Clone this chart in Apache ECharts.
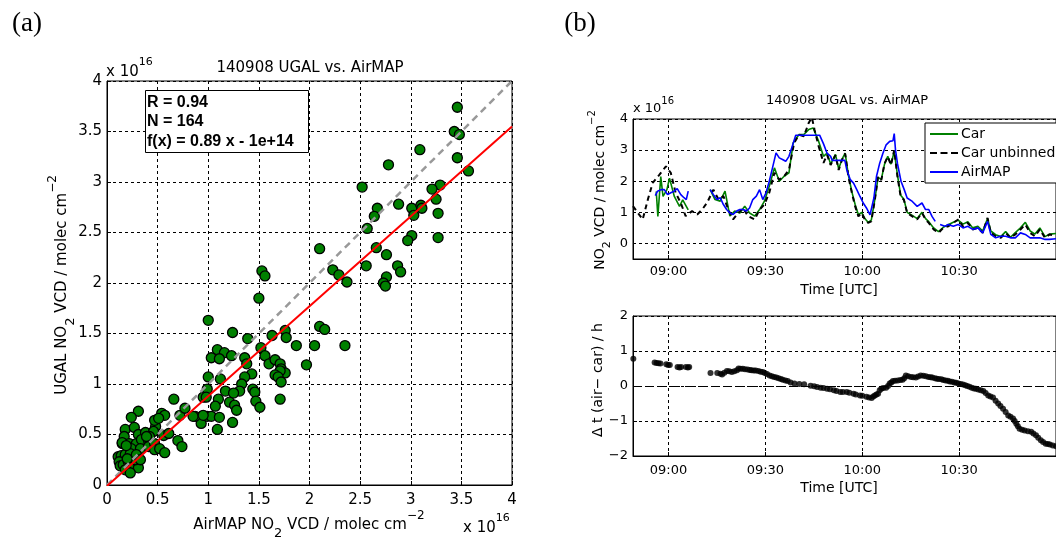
<!DOCTYPE html>
<html><head><meta charset="utf-8">
<script src="https://cdn.jsdelivr.net/npm/echarts@6/dist/echarts.min.js"></script>
<style>html,body{margin:0;padding:0;background:#fff}#c{width:1056px;height:543px}</style>
</head><body><div id="c"></div><script>
// ---------- DATA (units: 1e16 molec cm^-2; time in minutes since 00:00 UTC) ----------
const scatterPoints = [
[3.46,3.74],[3.43,3.50],[3.48,3.47],[3.46,3.24],[3.57,3.11],[3.09,3.32],[2.78,3.17],[3.29,2.97],[3.21,2.93],[2.52,2.95],
[3.25,2.83],[2.88,2.78],[3.01,2.74],[3.10,2.77],[3.11,2.74],[3.03,2.67],[2.67,2.74],[2.64,2.66],[3.27,2.69],[2.57,2.54],
[3.01,2.47],[2.97,2.42],[3.27,2.45],[2.10,2.34],[2.66,2.35],[2.76,2.28],[2.56,2.17],[2.87,2.17],[2.90,2.11],[2.23,2.13],
[2.29,2.08],[2.37,2.01],[2.76,2.06],[2.73,2.00],[2.75,1.97],[1.53,2.12],[1.56,2.07],
[1.50,1.85],[1.00,1.63],[1.24,1.51],[1.39,1.45],[1.63,1.48],[1.76,1.53],[1.77,1.46],[2.10,1.57],[2.15,1.54],[1.87,1.38],
[2.05,1.38],[2.35,1.38],[1.52,1.36],[1.56,1.28],[1.09,1.34],[1.16,1.31],[1.03,1.26],[1.11,1.25],[1.23,1.28],[1.36,1.26],
[1.38,1.20],[1.60,1.20],[1.66,1.24],[1.71,1.20],[1.72,1.15],[1.76,1.11],[1.71,1.13],[1.66,1.09],[1.69,1.07],[1.72,1.02],
[1.97,1.19],[1.71,0.85],[1.43,1.10],[1.36,1.07],[1.33,1.00],[1.31,0.93],[1.44,0.95],[1.46,0.92],[1.47,0.83],[1.51,0.77],
[1.00,1.07],[1.12,1.05],[0.99,0.95],[0.95,0.87],[0.98,0.87],[1.10,0.85],[1.17,0.93],[1.25,0.91],[1.21,0.82],[1.26,0.79],
[1.28,0.74],[1.07,0.78],[1.24,0.62],[0.94,0.68],[0.93,0.61],[0.99,0.68],[1.03,0.68],[1.11,0.67],[1.09,0.55],[0.87,0.68],
[0.66,0.85],[0.31,0.73],[0.24,0.67],[0.18,0.55],[0.27,0.57],[0.17,0.48],[0.31,0.50],[0.38,0.52],[0.15,0.41],[0.22,0.41],
[0.29,0.41],[0.34,0.45],[0.41,0.44],[0.24,0.36],[0.33,0.36],[0.41,0.38],[0.47,0.41],[0.56,0.49],[0.61,0.51],[0.48,0.58],
[0.54,0.71],[0.57,0.69],[0.47,0.64],[0.51,0.66],[0.46,0.53],[0.42,0.48],[0.39,0.48],[0.47,0.35],[0.52,0.36],[0.57,0.32],
[0.70,0.44],[0.74,0.38],[0.72,0.69],[0.77,0.76],[0.85,0.68],[0.95,0.69],
[0.11,0.28],[0.14,0.29],[0.18,0.30],[0.23,0.31],[0.12,0.23],[0.13,0.19],[0.16,0.20],[0.21,0.23],[0.26,0.21],[0.31,0.17],
[0.18,0.15],[0.23,0.12],[0.28,0.25],[0.29,0.30],[0.20,0.26],[0.33,0.25],[0.15,0.42],[0.19,0.39]
];
const oneToOne = [[0,0],[4,4]];
const fitSlope = 0.89, fitIntercept = -0.01;
const fitRange = [0, 4];
const statsText = ['R = 0.94','N = 164','f(x) = 0.89 x - 1e+14'];

const carBinned = [
[536.2,1.67],[536.7,0.87],[537.6,2.15],[538.3,1.51],[539.5,1.73],[540.3,2.1],[541.8,1.51],[543.4,1.19],[544.4,1.4],[546.1,1.08],[549,null],
[552.9,1.73],[554.4,1.41],[556,1.36],[557.5,1.68],[559,0.88],[560.5,1.04],[562.1,0.98],[563.6,1.2],[565.1,0.98],[566.7,0.88],
[568.2,1.09],[569.7,1.36],[571.2,1.84],[572.8,2.43],[574.3,2.0],[575.8,2.16],[577.3,2.27],[578.6,3.23],[580.4,3.5],[581.9,3.5],
[583.4,3.66],[584.8,3.71],[586.5,3.28],[588,2.8],[589.1,2.9],[590.2,2.55],[591.7,2.86],[592.7,2.4],[593.7,2.7],[594.7,2.9],
[595.7,2.2],[596.8,1.65],[597.8,1.25],[598.8,0.92],[599.8,1.0],[600.8,0.8],[601.8,0.68],[602.8,0.75],[603.9,1.42],[604.9,2.12],
[605.9,2.06],[606.9,2.55],[607.9,2.8],[608.9,2.55],[609.9,2.95],[610.9,2.2],[611.9,1.55],[612.9,1.42],[613.9,1.0],[615.5,0.9],
[617,0.8],[618.5,1.0],[619.6,0.8],[620.6,0.7],[622.1,0.5],[623.6,0.38],[625.1,0.52],[626.6,0.6],[628.2,0.68],[629.7,0.75],
[631.2,0.62],[632.7,0.7],[634.2,0.5],[635.8,0.55],[637.3,0.4],[638.8,0.8],[639.8,0.4],[641.3,0.28],[642.9,0.22],[644.4,0.38],
[645.9,0.2],[647.4,0.35],[649,0.5],[650.5,0.68],[652,0.4],[653.5,0.3],[655,0.5],[656.6,0.22],[658,0.3],[660,0.32]
];
const carUnbinned = [
[529,1.2],[530.5,0.98],[532,0.77],[533.6,1.41],[535.1,1.95],[537.2,2.21],[539.2,2.48],[540.7,2.27],[542.2,1.63],[543.8,1.30],
[545.3,0.88],[547.3,1.04],[548.9,0.93],[550.4,1.09],[551.9,1.30],[553.9,1.73],[555.5,1.41],[557,1.52],[558.5,1.09],[560,0.77],
[561.6,0.98],[563.1,1.14],[564.6,0.88],[566.7,0.77],[568.2,1.09],[569.7,1.25],[571.2,1.63],[572.8,2.27],[574.3,2.05],[575.8,2.16],
[577.3,2.37],[578.9,3.23],[580.4,3.50],[581.9,3.44],[583.4,3.87],[584.4,4.05],[585.2,3.66],[586.5,3.12],[588,2.59],[589.1,2.85],
[590.2,2.52],[591.7,2.84],[592.7,2.36],[593.7,2.68],[594.7,2.89],[595.7,2.15],[596.8,1.62],[597.8,1.19],[598.8,0.87],[599.8,0.98],
[600.8,0.77],[601.8,0.66],[602.8,0.71],[603.9,1.40],[604.9,2.15],[605.9,2.04],[606.9,2.57],[607.9,2.79],[608.9,2.52],[609.9,3.0],
[610.9,2.15],[611.9,1.51],[612.9,1.40],[613.9,0.98],[615.5,0.87],[617,0.77],[618.5,0.98],[619.6,0.77],[620.6,0.66],[622.1,0.45],
[623.6,0.34],[625.1,0.5],[626.6,0.55],[628.2,0.66],[629.7,0.77],[631.2,0.55],[632.7,0.66],[634.2,0.45],[635.8,0.5],[637.3,0.34],
[638.8,0.82],[639.8,0.34],[641.3,0.23],[642.9,0.18],[644.4,0.34],[645.9,0.18],[647.4,0.29],[649,0.45],[650.5,0.61],[652,0.34],
[653.5,0.23],[655,0.45],[656.6,0.18],[658,0.29],[660,0.25]
];
const airmapSeries = [
[535.9,1.54],[536.6,1.68],[537.7,1.73],[538.7,1.73],[539.7,1.57],[540.7,1.63],[541.7,1.68],[542.7,1.76],[543.8,1.57],[544.8,1.47],
[545.5,1.41],[546.1,1.68],[549,null],
[552.9,1.73],[553.9,1.57],[555,1.41],[556,1.47],[557,1.25],[558,1.09],[559,0.98],[560,0.93],[561.1,1.04],[562.1,1.09],[563.1,1.09],
[564.1,1.04],[565.1,1.14],[566.1,1.41],[567.2,1.52],[568.2,1.73],[569.2,1.41],[570.2,1.63],[571.2,2.0],[572.2,2.43],[573.3,2.91],
[574.3,2.75],[575.3,2.7],[576.3,2.64],[577.3,2.8],[578.3,3.12],[579.4,3.48],[581,3.48],[583,3.48],[585,3.48],[586.8,3.48],
[588,3.2],[589.1,2.9],[590.2,2.8],[590.7,2.67],[592,2.67],[593.5,2.67],[594.6,2.67],[595.2,2.37],[596.3,2.05],[597.3,1.94],
[598.3,1.73],[599.3,1.51],[600.3,1.30],[601.3,1.14],[602.4,0.92],[602.9,0.95],[603.6,1.46],[604.4,2.15],[605.4,2.58],[606.4,2.9],
[607.4,3.17],[608.5,3.28],[609.5,3.3],[609.9,3.53],[610.3,3.0],[610.9,2.57],[612,2.0],[613,1.73],[613.9,1.46],[615.5,1.35],
[617,1.19],[618.5,1.30],[619.6,1.09],[620.6,1.09],[621.6,0.87],[622.6,0.71],[623.3,null],
[624.1,0.61],[625.6,0.55],[626.6,0.61],[628.2,0.55],[629.7,0.61],[631.2,0.5],[632.7,0.55],[634.2,0.45],[635.8,0.5],[637.3,0.34],
[638.8,0.71],[639.8,0.29],[641.3,0.18],[642.9,0.23],[644.4,0.23],[645.9,0.18],[647.4,0.18],[649,0.34],[650.5,0.29],[652,0.18],
[653.5,0.18],[655,0.18],[656.6,0.13],[658,0.13],[660,0.15]
];
const deltaT = [
[529.1,0.78],[535.7,0.67],[536.3,0.66],[536.9,0.65],[537.5,0.64],[539.3,0.62],[539.9,0.60],[540.4,0.60],[542.8,0.54],[543.4,0.53],
[543.9,0.54],[545.4,0.54],[546.0,0.53],[546.4,0.54],[553.0,0.37],[555.1,0.37],[556.1,0.35],[556.6,0.33],[557.3,0.38],[558.1,0.43],
[558.8,0.42],[559.6,0.40],[560.4,0.42],[561.2,0.45],[561.7,0.50],[562.3,0.49],[563.0,0.49],[563.7,0.48],[564.5,0.47],[565.2,0.46],
[565.7,0.45],[566.4,0.44],[567.0,0.44],[567.8,0.43],[568.5,0.41],[569.2,0.40],[569.8,0.37],[570.5,0.34],[571.3,0.30],[572.0,0.28],
[572.7,0.26],[573.4,0.24],[574.1,0.22],[574.8,0.20],[575.4,0.18],[576.2,0.16],[576.9,0.14],[577.8,0.10],[579.0,0.07],[580.5,0.06],
[582.0,0.05],[584.0,0.01],[585.1,-0.01],[586.0,-0.03],[587.1,-0.05],[588.0,-0.06],[589.1,-0.08],[590.0,-0.09],[591.2,-0.12],[592.0,-0.14],
[593.2,-0.17],[594.0,-0.17],[595.2,-0.17],[596.0,-0.19],[597.3,-0.22],[598.0,-0.24],[599.3,-0.27],[600.0,-0.28],[601.3,-0.31],[602.1,-0.33],
[602.9,-0.34],[603.4,-0.30],[603.9,-0.27],[604.4,-0.24],[604.9,-0.22],[605.4,-0.12],[605.9,-0.08],[606.5,-0.06],[607.4,-0.05],[608.0,0.00],
[608.5,0.07],[609.0,0.10],[609.5,0.14],[610.2,0.15],[611.0,0.16],[611.8,0.17],[612.5,0.18],[613.0,0.22],[613.5,0.30],[614.2,0.28],
[615.1,0.26],[615.8,0.25],[616.6,0.24],[617.3,0.27],[618.1,0.30],[618.9,0.29],[619.7,0.28],[620.5,0.26],[621.2,0.25],[621.7,0.24],
[622.5,0.22],[623.1,0.21],[623.7,0.20],[624.5,0.19],[625.1,0.17],[625.8,0.16],[626.5,0.15],[627.1,0.13],[627.8,0.12],[628.5,0.10],
[629.1,0.09],[629.8,0.07],[630.5,0.06],[631.2,0.04],[631.9,0.02],[632.5,0.00],[633.2,-0.02],[633.9,-0.05],[634.6,-0.07],[635.2,-0.08],
[635.9,-0.10],[636.7,-0.12],[637.5,-0.14],[638.2,-0.20],[639.0,-0.27],[639.7,-0.30],[640.5,-0.33],[641.3,-0.42],[642.1,-0.50],[642.8,-0.57],
[643.6,-0.65],[644.4,-0.74],[645.2,-0.84],[645.9,-0.88],[646.7,-0.93],[647.2,-1.00],[647.7,-1.08],[648.2,-1.15],[648.7,-1.22],[649.5,-1.25],
[650.3,-1.27],[651.3,-1.29],[652.3,-1.31],[653.0,-1.36],[653.8,-1.41],[654.5,-1.48],[655.3,-1.55],[656.0,-1.60],[656.8,-1.65],[657.5,-1.66],
[658.1,-1.67],[659.0,-1.70],[660.0,-1.72]
];
const timeTicks = [540, 570, 600, 630];
const vcdRange = [-0.5, 4];
const timeRange = [529, 660];

// ---------- CHART ----------
const F = 'DejaVu Sans';
const chart = echarts.init(document.getElementById('c'), null, {renderer: 'canvas'});
const fmtTime = v => String(Math.floor(v / 60)).padStart(2, '0') + ':' + String(Math.round(v % 60)).padStart(2, '0');
const DASH = [3, 3];
function splitLine(){ return {show: true, lineStyle: {color: '#000', width: 1, type: DASH}}; }
const axLine = {show: true, onZero: false, lineStyle: {color: '#000', width: 1}};
const tick = {show: true, inside: true, length: 4, lineStyle: {color: '#000'}};

const fitLine = fitRange.map(x => [x, fitSlope * x + fitIntercept]);

const richA = {
  sub: {fontSize: 13, lineHeight: 16, verticalAlign: 'bottom', fontFamily: F},
  sup: {fontSize: 12, lineHeight: 6, verticalAlign: 'top', fontFamily: F}
};
const richB = {
  sub: {fontSize: 11, lineHeight: 14, verticalAlign: 'bottom', fontFamily: F},
  sup: {fontSize: 10, lineHeight: 6, verticalAlign: 'top', fontFamily: F}
};
function txt(x, y, text, size, extra) {
  return Object.assign({type: 'text', x: x, y: y, z: 100,
    style: Object.assign({text: text, fill: '#000', fontSize: size, fontFamily: F,
      align: 'center', verticalAlign: 'middle'}, (extra && extra.style) || {})},
    extra ? {rotation: extra.rotation || 0} : {});
}
const dashIcon = 'path://M0,0h7v2h-7z M10.5,0h7v2h-7z M21,0h7v2h-7z';

const option = {
  animation: false,
  backgroundColor: '#fff',
  grid: [
    {left: 107, top: 81, width: 405, height: 404, show: true, borderColor: '#000', borderWidth: 1},
    {left: 633, top: 119, width: 429.3, height: 140, show: true, borderColor: '#000', borderWidth: 1},
    {left: 633, top: 316, width: 429.3, height: 140, show: true, borderColor: '#000', borderWidth: 1}
  ],
  xAxis: [
    {gridIndex: 0, type: 'value', min: 0, max: 4, interval: 0.5, axisLine: axLine, axisTick: tick,
     axisLabel: {color: '#000', fontSize: 15, fontFamily: F, margin: 8}, splitLine: splitLine()},
    {gridIndex: 1, type: 'value', min: timeRange[0], max: timeRange[1], axisLine: axLine,
     axisTick: Object.assign({customValues: timeTicks}, tick),
     axisLabel: {customValues: timeTicks, formatter: fmtTime, color: '#000', fontSize: 13, fontFamily: F, margin: 6},
     splitLine: splitLine()},
    {gridIndex: 2, type: 'value', min: timeRange[0], max: timeRange[1], axisLine: axLine,
     axisTick: Object.assign({customValues: timeTicks}, tick),
     axisLabel: {customValues: timeTicks, formatter: fmtTime, color: '#000', fontSize: 13, fontFamily: F, margin: 8},
     splitLine: splitLine()}
  ],
  yAxis: [
    {gridIndex: 0, type: 'value', min: 0, max: 4, interval: 0.5, axisLine: axLine, axisTick: tick,
     axisLabel: {color: '#000', fontSize: 15, fontFamily: F, margin: 5}, splitLine: splitLine()},
    {gridIndex: 1, type: 'value', min: vcdRange[0], max: vcdRange[1], interval: 0.5, axisLine: axLine,
     axisTick: {show: false},
     axisLabel: {color: '#000', fontSize: 13, fontFamily: F, margin: 5,
       formatter: v => (Math.abs(v - Math.round(v)) < 1e-6 ? String(Math.round(v)) : '')},
     splitLine: {show: true, lineStyle: {color: ['rgba(0,0,0,0)', '#000'], width: 1, type: DASH}}},
    {gridIndex: 2, type: 'value', min: -2, max: 2, interval: 1, axisLine: axLine, axisTick: tick,
     axisLabel: {color: '#000', fontSize: 13, fontFamily: F, margin: 5,
       formatter: v => (v < 0 ? '\u2212' + Math.abs(v) : String(v))},
     splitLine: splitLine()}
  ],
  legend: {
    z: 20,
    data: [{name: 'Car', icon: 'rect'}, {name: 'Car unbinned', icon: dashIcon}, {name: 'AirMAP', icon: 'rect'}],
    orient: 'vertical', left: 925, top: 123,
    padding: [4, 20, 4, 5], itemGap: 5, itemWidth: 28, itemHeight: 2,
    borderColor: '#000', borderWidth: 1, backgroundColor: '#fff', borderRadius: 0,
    selectedMode: false, textStyle: {color: '#000', fontSize: 14, fontFamily: F, lineHeight: 14, padding: [0, 0, 0, -2]}
  },
  series: [
    {type: 'scatter', xAxisIndex: 0, yAxisIndex: 0, data: scatterPoints, symbolSize: 10,
     itemStyle: {color: '#008000', borderColor: '#000', borderWidth: 1.3, opacity: 1}},
    {type: 'line', xAxisIndex: 0, yAxisIndex: 0, data: oneToOne, symbol: 'none',
     lineStyle: {color: '#999', width: 2.5, type: [7, 5]}},
    {type: 'line', xAxisIndex: 0, yAxisIndex: 0, data: fitLine, symbol: 'none',
     lineStyle: {color: '#ff0000', width: 2}},
    {name: 'Car', type: 'line', xAxisIndex: 1, yAxisIndex: 1, data: carBinned, symbol: 'none',
     connectNulls: false, lineStyle: {color: '#008000', width: 1.6}, itemStyle: {color: '#008000'}},
    {name: 'Car unbinned', type: 'line', xAxisIndex: 1, yAxisIndex: 1, data: carUnbinned, symbol: 'none',
     lineStyle: {color: '#000', width: 2, type: [5, 4]}, itemStyle: {color: '#000'}},
    {name: 'AirMAP', type: 'line', xAxisIndex: 1, yAxisIndex: 1, data: airmapSeries, symbol: 'none',
     connectNulls: false, lineStyle: {color: '#0000ff', width: 1.6}, itemStyle: {color: '#0000ff'}},
    {type: 'scatter', xAxisIndex: 2, yAxisIndex: 2, data: deltaT, symbolSize: 6,
     itemStyle: {color: '#000'},
     markLine: {silent: true, symbol: 'none', label: {show: false}, animation: false,
       lineStyle: {color: '#000', width: 1, type: [8, 5]}, data: [{yAxis: 0}]}}
  ],
  graphic: [
    txt(27, 24, '(a)', 27, {style: {fontFamily: 'Liberation Serif'}}),
    txt(580, 24, '(b)', 27, {style: {fontFamily: 'Liberation Serif'}}),
    txt(310, 68, '140908 UGAL vs. AirMAP', 15),
    txt(106, 72, 'x 10{e|16}', 15, {style: {align: 'left', lineHeight: 30,
      rich: {e: {fontSize: 11, lineHeight: 14, verticalAlign: 'top', fontFamily: F}}}}),
    txt(463, 528, 'x 10{e|16}', 15, {style: {align: 'left', lineHeight: 30,
      rich: {e: {fontSize: 11, lineHeight: 6, verticalAlign: 'top', fontFamily: F}}}}),
    txt(309, 525, 'AirMAP NO{sub|2} VCD / molec cm{sup|\u22122}', 15, {style: {lineHeight: 30, rich: richA}}),
    txt(62, 285, 'UGAL NO{sub|2} VCD / molec cm{sup|\u22122}', 15, {rotation: Math.PI / 2, style: {lineHeight: 30, rich: richA}}),
    {type: 'group', z: 100, children: [
      {type: 'rect', shape: {x: 145.5, y: 90.5, width: 163, height: 62}, style: {fill: '#fff', stroke: '#000', lineWidth: 1}, z: 100},
      ...statsText.map((s, i) => ({type: 'text', x: 147, y: 102.5 + i * 19.5, z: 101,
        style: {text: s, fill: '#000', fontSize: 16, fontWeight: 'bold', fontFamily: 'Liberation Sans', align: 'left', verticalAlign: 'middle'}}))
    ]},
    txt(847, 101, '140908 UGAL vs. AirMAP', 13),
    txt(633, 109, 'x 10{e|16}', 13, {style: {align: 'left', lineHeight: 26,
      rich: {e: {fontSize: 10, lineHeight: 12, verticalAlign: 'top', fontFamily: F}}}}),
    txt(600, 190, 'NO{sub|2} VCD / molec cm{sup|\u22122}', 14, {rotation: Math.PI / 2, style: {lineHeight: 26, rich: richB}}),
    txt(839, 290, 'Time [UTC]', 14),
    txt(598, 380, '\u0394 t (air\u2212 car) / h', 14, {rotation: Math.PI / 2}),
    txt(839, 488, 'Time [UTC]', 14)
  ]
};
chart.setOption(option);
</script></body></html>
